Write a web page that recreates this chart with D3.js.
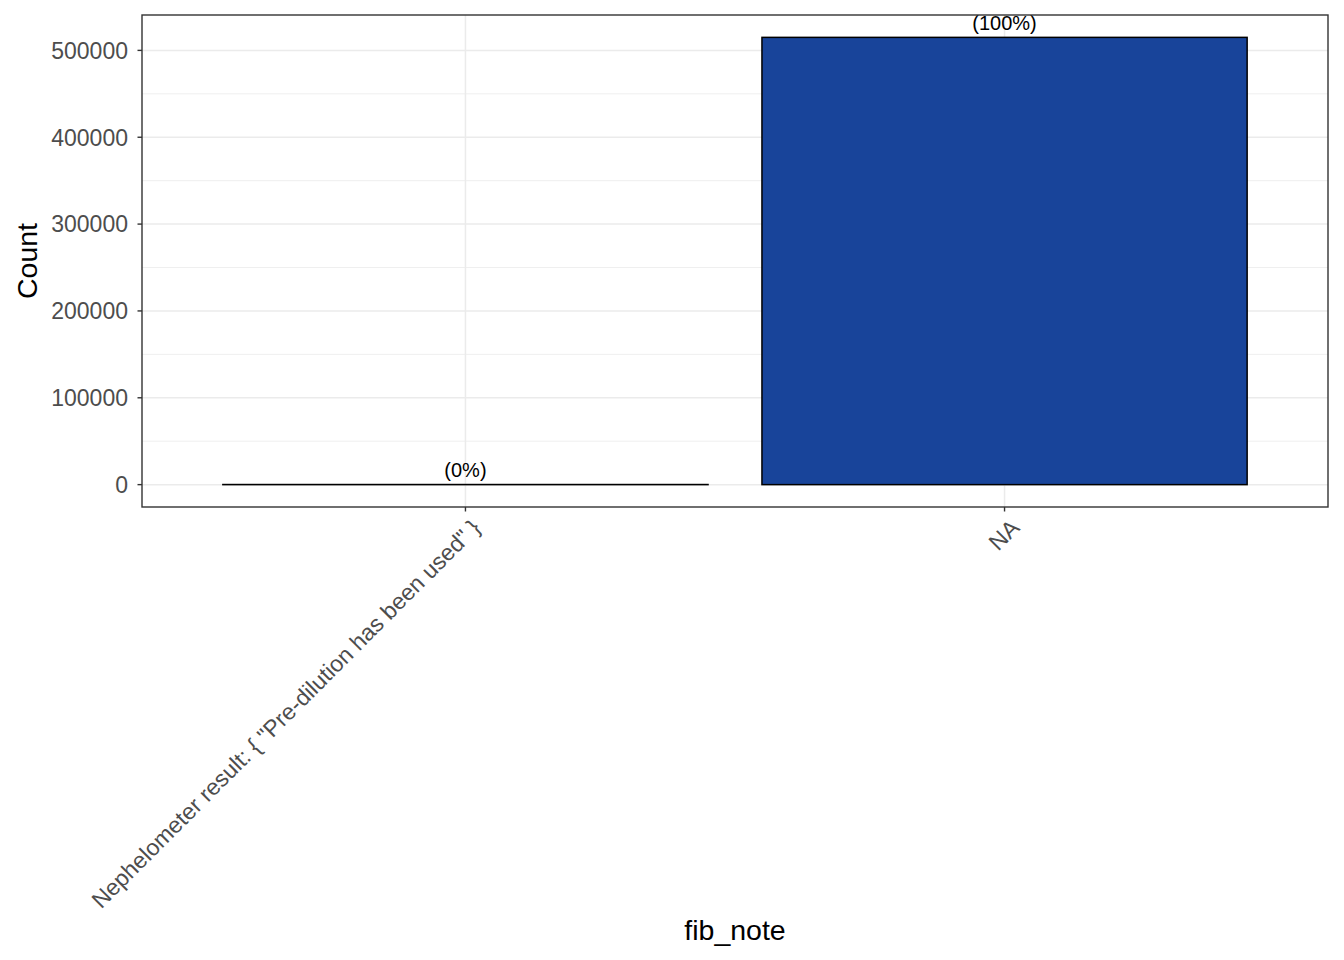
<!DOCTYPE html>
<html><head><meta charset="utf-8">
<script src="https://cdn.jsdelivr.net/npm/d3@7"></script>
<style>body{margin:0;background:#fff;} text{font-family:"Liberation Sans",Arial,sans-serif;}</style>
</head><body>
<svg id="chart" width="1344" height="960"></svg>
<script>
const categories = ['Nephelometer result: { "Pre-dilution has been used" }', 'NA'];
const counts = [120, 515000];
const pctLabels = ['(0%)', '(100%)'];
const yTicks = [0, 100000, 200000, 300000, 400000, 500000];
const yMinor = [50000, 150000, 250000, 350000, 450000];

const svg = d3.select('#chart');
const L = 142, R = 1328, T = 15, B = 507;
const maxV = d3.max(counts);
const y = d3.scaleLinear().domain([-0.05 * maxV, 1.05 * maxV]).range([B, T]);
const unit = (R - L) / (categories.length - 1 + 1.2);
const x = d3.scalePoint().domain(categories).range([L + 0.6 * unit, R - 0.6 * unit]);
const cx = d => x(d);
const bw = 0.9 * unit;

const g = svg.append('g');
g.selectAll('.minor').data(yMinor).enter().append('line')
  .attr('x1', L).attr('x2', R).attr('y1', d => y(d)).attr('y2', d => y(d))
  .attr('stroke', '#EBEBEB').attr('stroke-width', 0.8);
g.selectAll('.major').data(yTicks).enter().append('line')
  .attr('x1', L).attr('x2', R).attr('y1', d => y(d)).attr('y2', d => y(d))
  .attr('stroke', '#EBEBEB').attr('stroke-width', 1.5);
g.selectAll('.vmajor').data(categories).enter().append('line')
  .attr('x1', d => cx(d)).attr('x2', d => cx(d)).attr('y1', T).attr('y2', B)
  .attr('stroke', '#EBEBEB').attr('stroke-width', 1.5);

g.selectAll('.bar').data(categories).enter().append('rect')
  .attr('x', d => cx(d) - bw / 2).attr('width', bw)
  .attr('y', (d, i) => Math.min(y(counts[i]), y(0)))
  .attr('height', (d, i) => Math.abs(y(0) - y(counts[i])))
  .attr('fill', '#18449A').attr('stroke', '#000').attr('stroke-width', 1.5);

g.selectAll('.lbl').data(categories).enter().append('text')
  .attr('x', d => cx(d)).attr('y', (d, i) => y(counts[i]) - 7.5)
  .attr('text-anchor', 'middle').attr('font-size', 20).attr('fill', '#000')
  .text((d, i) => pctLabels[i]);

svg.append('rect').attr('x', L).attr('y', T).attr('width', R - L).attr('height', B - T)
  .attr('fill', 'none').attr('stroke', '#333333').attr('stroke-width', 1.4);

const ya = svg.append('g');
ya.selectAll('line').data(yTicks).enter().append('line')
  .attr('x1', L - 4.5).attr('x2', L).attr('y1', d => y(d)).attr('y2', d => y(d))
  .attr('stroke', '#333333').attr('stroke-width', 1.4);
ya.selectAll('text').data(yTicks).enter().append('text')
  .attr('x', L - 14).attr('y', d => y(d)).attr('dy', '0.36em')
  .attr('text-anchor', 'end').attr('font-size', 23).attr('fill', '#4D4D4D')
  .text(d => d3.format('d')(d));

const xa = svg.append('g');
xa.selectAll('line').data(categories).enter().append('line')
  .attr('x1', d => cx(d)).attr('x2', d => cx(d)).attr('y1', B).attr('y2', B + 4.5)
  .attr('stroke', '#333333').attr('stroke-width', 1.4);
xa.selectAll('text').data(categories).enter().append('text')
  .attr('transform', d => `translate(${cx(d) + 4},${B + 10}) rotate(-45)`)
  .attr('dy', '0.75em').attr('text-anchor', 'end').attr('font-size', 23).attr('fill', '#4D4D4D')
  .text(d => d);

svg.append('text').attr('x', (L + R) / 2).attr('y', 940).attr('text-anchor', 'middle')
  .attr('font-size', 28.5).attr('fill', '#000').text('fib_note');
svg.append('text').attr('transform', `translate(37,${(T + B) / 2}) rotate(-90)`)
  .attr('text-anchor', 'middle').attr('font-size', 28.5).attr('fill', '#000').text('Count');
</script>
</body></html>
